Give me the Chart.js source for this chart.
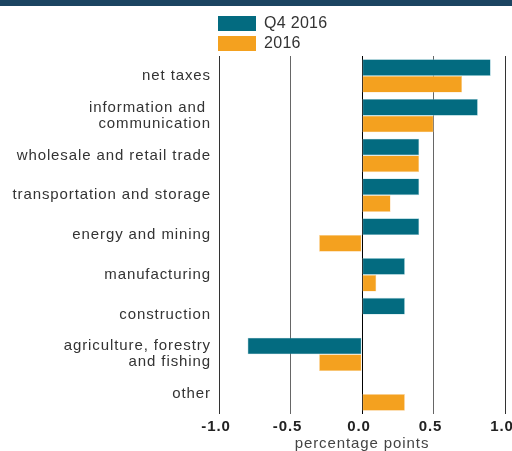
<!DOCTYPE html>
<html>
<head>
<meta charset="utf-8">
<script src="https://cdn.jsdelivr.net/npm/chart.js@4/dist/chart.umd.min.js"></script>
<style>
  html, body { margin: 0; padding: 0; background: #fff; }
  #wrap { position: relative; width: 512px; height: 451px; overflow: hidden; font-family: "Liberation Sans", Arial, sans-serif; }
  #topbar { position: absolute; left: 0; top: 0; width: 512px; height: 6px; background: #1b4461; }
  #legend { position: absolute; left: 218px; top: 13px; }
  .li { display: flex; align-items: center; height: 20px; font-size: 16px; letter-spacing: 0.3px; color: #333; }
  .sw { width: 38px; height: 15px; margin-right: 8px; }
  #c { position: absolute; left: 0; top: 0; }
</style>
</head>
<body>
<div id="wrap">
  <div id="topbar"></div>
  <canvas id="c" width="512" height="451"></canvas>
  <div id="legend"></div>
</div>
<script>
const categories = [
  "net taxes",
  ["information and ", "communication"],
  "wholesale and retail trade",
  "transportation and storage",
  "energy and mining",
  "manufacturing",
  "construction",
  ["agriculture, forestry", "and fishing"],
  "other"
];
const seriesNames = ["Q4 2016", "2016"];
const q4Values = [0.90, 0.81, 0.40, 0.40, 0.40, 0.30, 0.30, -0.80, 0];
const yearValues = [0.70, 0.50, 0.40, 0.20, -0.30, 0.10, 0, -0.30, 0.30];
const xTicks = [-1.0, -0.5, 0.0, 0.5, 1.0];
const colors = ["#036b80", "#f4a11f"];

const FONT = "'Liberation Sans', Arial, sans-serif";
const SP = '0.9px';
const spacingPlugin = {
  id: 'spacing',
  beforeUpdate(chart) { chart.ctx.letterSpacing = SP; },
  beforeLayout(chart) { chart.ctx.letterSpacing = SP; },
  beforeDraw(chart) { chart.ctx.letterSpacing = SP; }
};

const ctx = document.getElementById('c').getContext('2d');
const chart = new Chart(ctx, {
  type: 'bar',
  plugins: [spacingPlugin],
  data: {
    labels: categories,
    datasets: [
      { label: seriesNames[0], data: q4Values, backgroundColor: colors[0], borderColor: "#8fc9d3", borderWidth: 0.6, borderSkipped: false },
      { label: seriesNames[1], data: yearValues, backgroundColor: colors[1], borderColor: "#fbd39a", borderWidth: 0.6, borderSkipped: false }
    ]
  },
  options: {
    indexAxis: 'y',
    responsive: false,
    animation: false,
    devicePixelRatio: 1,
    layout: { padding: { top: 56, right: 7, left: 0, bottom: 0 } },
    plugins: { legend: { display: false }, tooltip: { enabled: false } },
    datasets: { bar: { categoryPercentage: 0.84, barPercentage: 1.0 } },
    scales: {
      x: {
        min: -1, max: 1,
        afterBuildTicks: (axis) => { axis.ticks = xTicks.map(v => ({ value: v })); },
        afterFit: (s) => { s.paddingRight = 0; s.paddingLeft = 0; },
        ticks: {
          callback: (v) => Number(v).toFixed(1),
          font: { family: FONT, size: 15, weight: 'bold' },
          color: '#222',
          padding: 4,
          labelOffset: -3,
          maxRotation: 0
        },
        grid: {
          color: (c) => {
            const v = c.tick ? c.tick.value : null;
            if (v === 0) return '#000';
            if (v === -1 || v === 1) return '#333';
            return '#666';
          },
          lineWidth: 1,
          drawTicks: false
        },
        border: { display: false },
        title: {
          display: true,
          text: 'percentage points',
          font: { family: FONT, size: 15 },
          color: '#444',
          padding: { top: -5, bottom: -2 }
        }
      },
      y: {
        grid: { display: false, drawTicks: false },
        border: { display: false },
        ticks: {
          font: { family: FONT, size: 15, lineHeight: 1.07 },
          color: '#333',
          padding: 8,
          autoSkip: false
        },
        afterFit: (s) => { s.width = 219; }
      }
    }
  }
});

const lg = document.getElementById('legend');
chart.data.datasets.forEach(ds => {
  const row = document.createElement('div');
  row.className = 'li';
  const sw = document.createElement('div');
  sw.className = 'sw';
  sw.style.background = ds.backgroundColor;
  const t = document.createElement('span');
  t.textContent = ds.label;
  row.appendChild(sw); row.appendChild(t);
  lg.appendChild(row);
});
</script>
</body>
</html>
